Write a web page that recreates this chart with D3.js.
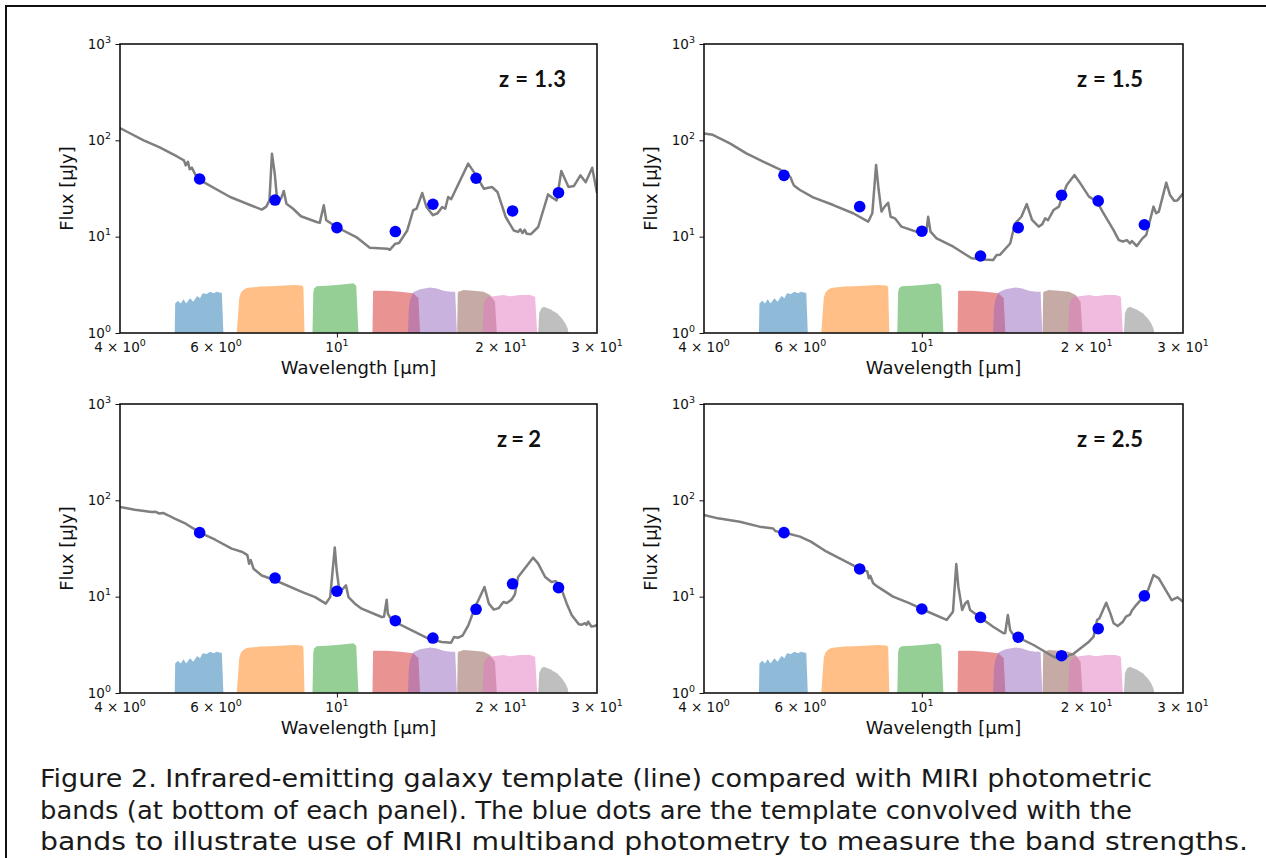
<!DOCTYPE html>
<html><head><meta charset="utf-8">
<script src="https://cdn.jsdelivr.net/npm/d3@7/dist/d3.min.js"></script>
<style>body{margin:0;background:#fff}svg{display:block}</style>
</head><body>
<svg id="c" width="1266" height="858"></svg>
<script>
// ---------------- DATA ----------------
const bandCenters = [5.6, 7.7, 10, 12.8, 15, 18, 21, 25.5];
const dotsZ13 = [39.7, 24, 12.4, 11.3, 21.7, 40.4, 18.5, 28.6];
const dotsZ15 = [43.3, 20.5, 11.4, 6.3, 12.4, 26.9, 23.5, 13.3];
const dotsZ20 = [46.2, 15.6, 11.4, 5.63, 3.72, 7.39, 13.6, 12.4];
const dotsZ25 = [46.2, 19.4, 7.45, 6.1, 3.79, 2.44, 4.66, 10.2];

const sedZ13 = [[4.0,134],[4.13,122],[4.42,100],[4.72,85],[5.09,68],[5.24,62],[5.28,55],[5.33,60],[5.37,50],[5.42,52],[5.5,44],[5.62,38.4],[6.37,25.8],[7.28,19.1],[7.42,20.5],[7.52,23.8],[7.6,72.7],[7.69,45],[7.77,23.8],[7.9,25],[7.99,29.8],[8.08,22],[8.31,19.5],[8.59,16.3],[9.18,14.2],[9.3,13.9],[9.46,21.2],[9.56,14.8],[9.98,12.6],[10.85,9.9],[11.49,7.69],[12.38,7.5],[12.5,7.3],[12.8,8.46],[13.0,8.6],[13.46,11.6],[13.8,18.8],[14.0,19.5],[14.34,28.4],[14.6,20.3],[15.0,16.7],[15.3,17.5],[15.6,20.3],[15.8,19.5],[16.0,25.8],[16.2,24.5],[17.41,57.3],[18.0,43.3],[18.6,31.5],[19.25,32.8],[19.7,29.1],[20.4,16.0],[21.1,11.6],[21.5,11.2],[21.7,11.9],[21.9,10.9],[22.1,11.8],[22.3,10.7],[22.7,10.6],[23.4,12.6],[24.4,27.5],[24.8,25.5],[25.3,23.8],[25.8,48],[26.6,32.8],[27.2,33.5],[27.97,43.3],[28.6,36.8],[29.4,52],[30,28.4]];
const sedZ15 = [[4.0,118],[4.15,114],[4.46,93],[4.78,73.3],[5.13,60],[5.5,50],[5.7,43.7],[5.76,41],[5.8,37],[5.84,34],[5.88,33],[5.99,30.5],[6.33,25.6],[6.89,21.3],[7.49,17.5],[7.98,14.3],[8.12,17.5],[8.25,55.5],[8.34,30.5],[8.44,18.2],[8.55,20.5],[8.68,22.5],[8.77,16.1],[8.93,15.5],[9.18,12.7],[9.99,10.8],[10.2,11.7],[10.27,16.1],[10.37,11.3],[10.64,9.6],[11.42,7.87],[12.33,5.96],[12.95,5.8],[13.5,5.73],[13.7,6.45],[13.9,6.5],[14.5,8.5],[14.8,13.7],[15.2,16.1],[15.55,21.8],[15.9,14.9],[16.35,12.7],[16.6,13.5],[16.8,15.5],[17.0,14.8],[17.4,18.9],[17.8,20.5],[18.1,27.1],[18.4,34.4],[19.0,43.7],[19.4,37],[20.2,26],[20.9,23.1],[21.4,18.1],[22.4,11.7],[22.9,9.2],[23.3,8.9],[23.7,9.2],[24.0,8.5],[24.2,9.0],[24.7,8.0],[25.3,9.6],[25.7,10.4],[26.5,20.5],[26.8,17.5],[27.1,18.2],[27.96,36.4],[28.4,27.1],[28.9,23.6],[29.3,23.8],[30,28.1]];
const sedZ20 = [[4.0,85.3],[4.26,80],[4.57,75.7],[4.65,76],[4.72,73],[4.8,74],[4.9,70],[5.04,64.5],[5.28,57.2],[5.61,46.2],[5.98,39],[6.41,31.5],[6.71,29.1],[6.85,27],[6.9,22],[6.95,24],[7.03,19.5],[7.28,16.6],[7.7,14.8],[8.62,11.2],[9.12,9.9],[9.54,8.46],[9.72,9.9],[9.91,32.3],[9.99,18.8],[10.1,11.6],[10.25,12],[10.39,13.1],[10.5,9.9],[10.79,8.46],[11.1,7.5],[12.08,6.15],[12.2,6.2],[12.34,9.3],[12.4,6.66],[12.6,5.69],[13.52,4.65],[14.72,3.67],[15.57,3.38],[16.2,3.33],[16.4,3.81],[16.7,3.75],[17.0,3.95],[17.42,5.04],[17.93,7.81],[18.3,10],[18.65,12.6],[19.0,8.46],[19.4,7.33],[19.8,7.6],[20.2,8.8],[20.5,8.6],[20.9,9.3],[21.2,10.5],[21.5,16.0],[22.9,25.4],[23.4,22.0],[24.1,16.0],[24.75,14.2],[25.2,14.5],[25.8,12.1],[26.4,8.46],[26.97,6.4],[27.8,5.16],[28.1,5.1],[28.5,5.3],[28.7,5.1],[28.9,5.5],[29.3,4.9],[29.7,4.95],[30,5.1]];
const sedZ25 = [[4.0,70.5],[4.24,65],[4.65,60],[5.05,53.3],[5.35,51],[5.4,48],[5.46,47.3],[5.62,46],[5.99,42],[6.27,37.3],[6.7,29.3],[7.18,24],[7.71,19.4],[7.95,18.3],[8.0,15.5],[8.05,16.5],[8.15,13.8],[8.3,12.7],[8.86,10],[9.51,8.53],[9.99,7.45],[11.1,5.73],[11.4,6.99],[11.56,21.8],[11.66,12.7],[11.85,7.27],[12.0,8.5],[12.13,9.0],[12.25,7.27],[12.77,6.1],[13.5,4.88],[14.1,4.17],[14.2,4.2],[14.36,6.45],[14.5,4.5],[14.7,4.0],[16.0,3.15],[17.4,2.38],[17.9,2.24],[18.3,2.3],[18.6,2.48],[18.9,2.54],[20.2,3.41],[20.6,3.85],[20.9,5.73],[21.1,5.95],[21.72,8.66],[22.1,6.7],[22.4,5.3],[22.8,4.96],[23.3,5.5],[23.6,6.2],[24.0,6.5],[24.2,7.2],[24.5,7.87],[25.1,9.2],[25.9,11.7],[26.5,16.8],[27.1,15.5],[27.9,11.7],[28.6,9.2],[29.3,9.84],[30,8.87]];

// MIRI filter curves (wavelength, plotted level above 1)
const bandF560W  = [[5.04,1],[5.05,2.02],[5.11,2.16],[5.17,2.02],[5.23,2.24],[5.29,2.02],[5.38,2.29],[5.45,2.11],[5.54,2.42],[5.61,2.29],[5.67,2.58],[5.77,2.54],[5.85,2.68],[5.94,2.58],[6.02,2.68],[6.11,2.62],[6.15,2.62],[6.19,1]];
const bandF770W  = [[6.55,1],[6.62,2.3],[6.66,2.6],[6.73,2.8],[6.81,2.91],[6.88,2.95],[7.23,3.03],[7.54,3.06],[7.87,3.1],[8.32,3.15],[8.62,3.12],[8.68,3.0],[8.72,1]];
const bandF1000W = [[9.02,1],[9.05,2.6],[9.08,2.9],[9.18,3.05],[9.58,3.1],[9.99,3.15],[10.43,3.23],[10.72,3.28],[10.85,3.1],[10.95,1]];
const bandF1280W = [[11.62,1],[11.65,2.7],[11.67,2.75],[12.35,2.75],[13.06,2.68],[13.81,2.58],[14.11,2.3],[14.21,1]];
const bandF1500W = [[13.5,1],[13.55,1.8],[13.62,2.2],[13.81,2.65],[14.21,2.84],[14.83,2.97],[15.26,2.9],[15.69,2.75],[16.14,2.68],[16.48,2.68],[16.6,1]];
const bandF1800W = [[16.62,1],[16.66,2.6],[16.71,2.68],[17.07,2.8],[17.8,2.75],[18.57,2.68],[19.1,2.48],[19.5,2.1],[19.65,1]];
const bandF2100W = [[18.5,1],[18.6,2.0],[18.71,2.2],[18.97,2.38],[19.38,2.4],[20.21,2.48],[20.79,2.4],[21.69,2.48],[22.62,2.48],[23.1,2.38],[23.3,1]];
const bandF2550W = [[23.4,1],[23.5,1.6],[23.7,1.8],[23.97,1.875],[24.62,1.76],[25.33,1.6],[25.86,1.42],[26.23,1.26],[26.49,1.12],[26.6,1]];
const bands = [bandF560W, bandF770W, bandF1000W, bandF1280W, bandF1500W, bandF1800W, bandF2100W, bandF2550W];
const bandColors = ["#1f77b4","#ff7f0e","#2ca02c","#d62728","#9467bd","#8c564b","#e377c2","#7f7f7f"];

const xMinorTicks = [4,5,6,7,8,9,20,30];
const xMajorTicks = [10];
const xTickLabels = [[4,"4 × 10","0"],[6,"6 × 10","0"],[10,"10","1"],[20,"2 × 10","1"],[30,"3 × 10","1"]];
const yMajorTicks = [1,10,100,1000];
const yTickLabels = [[1,"0"],[10,"1"],[100,"2"],[1000,"3"]];
const zLabels = ["z = 1.3","z = 1.5","z = 2","z = 2.5"];
const captionLines = [
 "Figure 2. Infrared-emitting galaxy template (line) compared with MIRI photometric",
 "bands (at bottom of each panel). The blue dots are the template convolved with the",
 "bands to illustrate use of MIRI multiband photometry to measure the band strengths."
];

// ---------------- LAYOUT ----------------
const svg = d3.select("#c");
const panels = [
 {l:120, r:597, t:44,  b:333, sed:sedZ13, dots:dotsZ13, z:zLabels[0], zx:499, zw:67},
 {l:704, r:1183,t:44,  b:333, sed:sedZ15, dots:dotsZ15, z:zLabels[1], zx:1077, zw:66},
 {l:120, r:597, t:404, b:693, sed:sedZ20, dots:dotsZ20, z:zLabels[2], zx:497, zw:44},
 {l:704, r:1183,t:404, b:693, sed:sedZ25, dots:dotsZ25, z:zLabels[3], zx:1077, zw:66}
];

// outer frame (clipped at right/bottom)
svg.append("path").attr("d","M6,858 L6,6 L1266,6").attr("fill","none").attr("stroke","#111").attr("stroke-width",2);

const FONT = "DejaVu Sans, sans-serif";
const minorYVals = [];
[1,10,100].forEach(d=>{for(let k=2;k<=9;k++) minorYVals.push(d*k);});

panels.forEach((p,i)=>{
  const x = d3.scaleLog().domain([4,30]).range([p.l,p.r]);
  const y = d3.scaleLog().domain([1,1000]).range([p.b,p.t]);
  const g = svg.append("g");
  const cid = "clip"+i;
  svg.append("clipPath").attr("id",cid).append("rect")
     .attr("x",p.l).attr("y",p.t).attr("width",p.r-p.l).attr("height",p.b-p.t);
  const plot = g.append("g").attr("clip-path",`url(#${cid})`);

  const area = d3.area().x(d=>x(d[0])).y0(y(1)).y1(d=>y(d[1]));
  bands.forEach((bd,j)=>{
    plot.append("path").attr("d",area(bd)).attr("fill",bandColors[j]).attr("fill-opacity",0.5);
  });
  const line = d3.line().x(d=>x(d[0])).y(d=>y(d[1]));
  plot.append("path").attr("d",line(p.sed)).attr("fill","none")
      .attr("stroke","#7f7f7f").attr("stroke-width",2.5).attr("stroke-linejoin","round");
  plot.selectAll("circle.dot").data(p.dots).enter().append("circle")
      .attr("cx",(d,k)=>x(bandCenters[k])).attr("cy",d=>y(d)).attr("r",5.8).attr("fill","#0000ff");

  // axes ticks
  const ax = g.append("g").attr("transform",`translate(0,${p.b})`);
  ax.call(d3.axisBottom(x).tickValues(xMinorTicks).tickSize(2.5).tickFormat(""));
  ax.call(d3.axisBottom(x).tickValues(xMajorTicks).tickSize(4.5).tickFormat(""));
  const ay = g.append("g").attr("transform",`translate(${p.l},0)`);
  ay.call(d3.axisLeft(y).tickValues(minorYVals).tickSize(2.5).tickFormat(""));
  ay.call(d3.axisLeft(y).tickValues(yMajorTicks).tickSize(4.5).tickFormat(""));
  g.selectAll(".domain").remove();
  g.selectAll(".tick line").attr("stroke","#111").attr("stroke-width",1);

  // spines
  g.append("rect").attr("x",p.l).attr("y",p.t).attr("width",p.r-p.l).attr("height",p.b-p.t)
   .attr("fill","none").attr("stroke","#111").attr("stroke-width",1.6);

  // tick labels
  xTickLabels.forEach(([v,main,sup])=>{
    const t = g.append("text").attr("x",x(v)).attr("y",p.b+19).attr("text-anchor","middle")
      .attr("font-family",FONT).attr("font-size",13.5).attr("fill","#111");
    t.append("tspan").text(main);
    t.append("tspan").attr("dy",-6).attr("font-size",9.5).text(sup);
  });
  yTickLabels.forEach(([v,sup])=>{
    const t = g.append("text").attr("x",p.l-9).attr("y",y(v)+4.8).attr("text-anchor","end")
      .attr("font-family",FONT).attr("font-size",13.5).attr("fill","#111");
    t.append("tspan").text("10");
    t.append("tspan").attr("dy",-6).attr("font-size",9.5).text(sup);
  });

  // axis labels
  g.append("text").attr("x",(p.l+p.r)/2).attr("y",p.b+41).attr("text-anchor","middle")
   .attr("font-family",FONT).attr("font-size",18).attr("fill","#111").text("Wavelength [μm]");
  g.append("text").attr("transform",`translate(${p.l-47},${(p.t+p.b)/2}) rotate(-90)`)
   .attr("text-anchor","middle").attr("font-family",FONT).attr("font-size",18).attr("fill","#111")
   .text("Flux [μJy]");

  // z label
  g.append("text").attr("x",p.zx).attr("y",p.t+43).attr("font-family","Lato, 'Open Sans', sans-serif")
   .attr("font-weight","bold").attr("font-size",22).attr("fill","#111")
   .attr("textLength",p.zw).attr("lengthAdjust","spacing").text(p.z);
});

// caption
const capBase = [787, 819, 850];
const capWidths = [1112, 1092, 1208];
captionLines.forEach((s,i)=> svg.append("text").attr("x",40).attr("y",capBase[i])
   .attr("font-family","Verdana, 'DejaVu Sans', sans-serif").attr("font-size",25).attr("fill","#1a1a1a")
   .attr("textLength",capWidths[i]).attr("lengthAdjust","spacingAndGlyphs").text(s));
</script>
</body></html>
